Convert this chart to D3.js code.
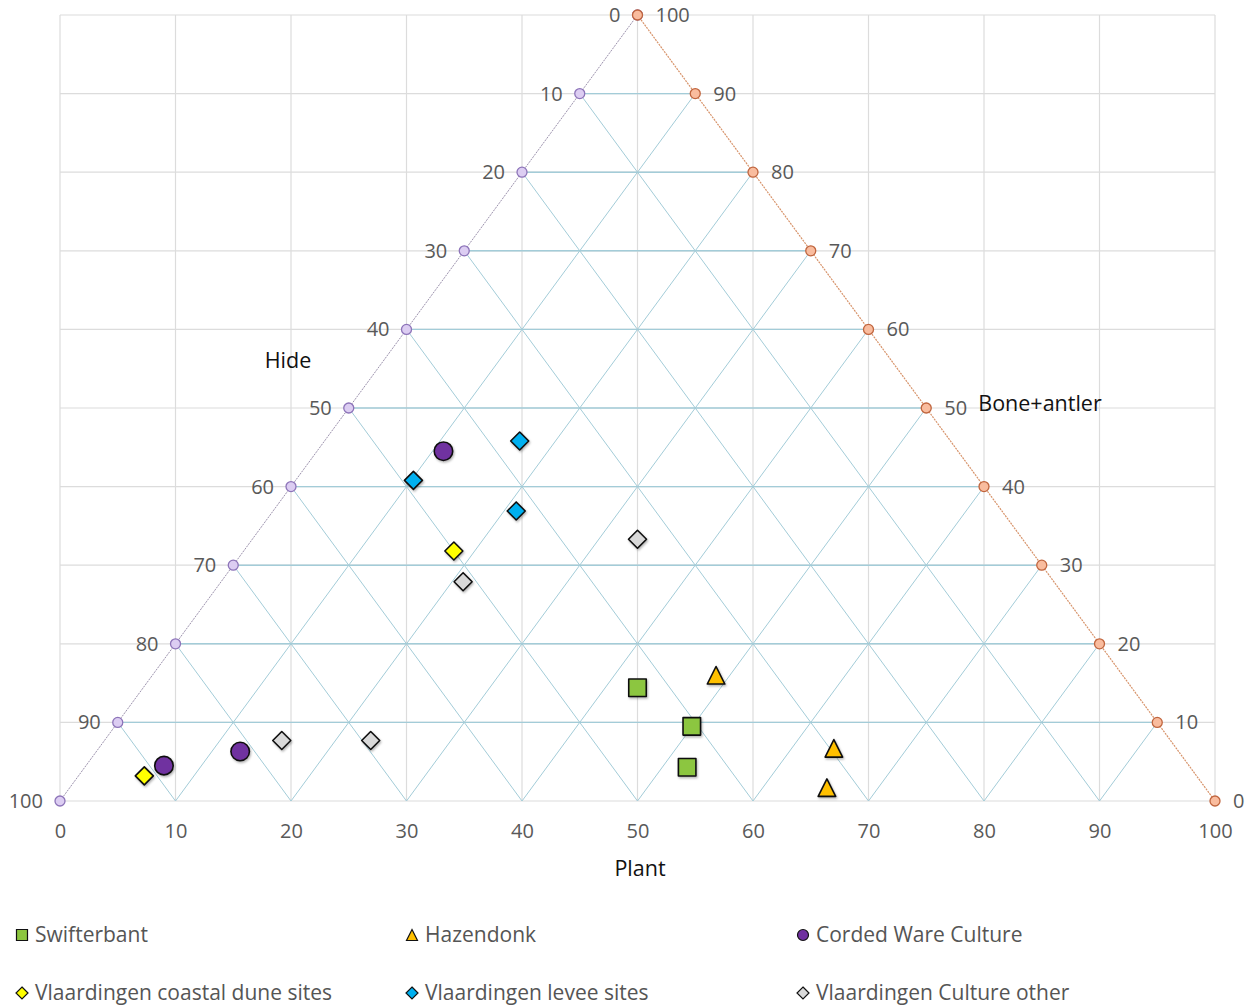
<!DOCTYPE html>
<html>
<head>
<meta charset="utf-8">
<script src="https://cdn.jsdelivr.net/npm/d3@7"></script>
<style>
  body { margin: 0; background: #fff; }
  svg { display: block; font-family: "Open Sans", "Noto Sans", sans-serif; }
</style>
</head>
<body>
<svg id="chart" width="1250" height="1008"></svg>
<script>
// Ternary diagram of use-wear material: Plant (bottom), Hide (left edge), Bone+antler (right edge).
// Points are given in plot coordinates: x along the Plant axis, y as the Bone+antler level.
const ticks = [0, 10, 20, 30, 40, 50, 60, 70, 80, 90, 100];

const swifterbantX = [50.0, 54.7, 54.3];
const swifterbantY = [14.4, 9.5, 4.3];

const hazendonkX = [56.8, 67.0, 66.4];
const hazendonkY = [16.0, 6.7, 1.7];

const cordedWareX = [33.2, 9.0, 15.6];
const cordedWareY = [44.5, 4.5, 6.3];

const coastalDuneX = [34.1, 7.3];
const coastalDuneY = [31.8, 3.2];

const leveeX = [39.8, 30.6, 39.5];
const leveeY = [45.8, 40.8, 36.9];

const otherX = [50.0, 34.9, 19.2, 26.9];
const otherY = [33.3, 27.9, 7.7, 7.7];

const seriesNames = ["Swifterbant", "Hazendonk", "Corded Ware Culture",
  "Vlaardingen coastal dune sites", "Vlaardingen levee sites", "Vlaardingen Culture other"];
const seriesShapes = ["square", "triangle", "circle", "diamond", "diamond", "diamond"];
const seriesColors = ["#8cc63f", "#ffc000", "#7030a0", "#ffff00", "#00b0f0", "#d9d9d9"];

const series = [
  [swifterbantX, swifterbantY], [hazendonkX, hazendonkY], [cordedWareX, cordedWareY],
  [coastalDuneX, coastalDuneY], [leveeX, leveeY], [otherX, otherY]
].map(([xs, ys], i) => ({
  name: seriesNames[i], shape: seriesShapes[i], color: seriesColors[i],
  points: xs.map((x, j) => ({ x, y: ys[j] }))
}));

const svg = d3.select("#chart");
const x = d3.scaleLinear().domain([0, 100]).range([60, 1215]);
const y = d3.scaleLinear().domain([0, 100]).range([801, 15]);

const defs = svg.append("defs");
const shadow = defs.append("filter").attr("id", "shadow")
  .attr("x", "-50%").attr("y", "-50%").attr("width", "200%").attr("height", "200%");
shadow.append("feDropShadow").attr("dx", 1).attr("dy", 1.5)
  .attr("stdDeviation", 1).attr("flood-color", "#000").attr("flood-opacity", 0.3);

// Background cartesian grid
const grid = svg.append("g").attr("stroke", "#dcdcdc").attr("stroke-width", 1.2);
ticks.forEach(t => {
  grid.append("line").attr("x1", x(t)).attr("x2", x(t)).attr("y1", y(0)).attr("y2", y(100));
  grid.append("line").attr("x1", x(0)).attr("x2", x(100)).attr("y1", y(t)).attr("y2", y(t));
});

// Ternary grid inside the triangle
const tri = svg.append("g").attr("stroke", "#a3ccd8").attr("stroke-width", 1).attr("fill", "none");
ticks.slice(1, -1).forEach(t => {
  // horizontal (constant Bone+antler)
  tri.append("line").attr("x1", x(t / 2)).attr("x2", x(100 - t / 2)).attr("y1", y(t)).attr("y2", y(t))
    .attr("stroke-width", 1.4);
  // parallel to left edge (constant Hide)
  tri.append("line").attr("x1", x(t)).attr("y1", y(0)).attr("x2", x(50 + t / 2)).attr("y2", y(100 - t));
  // parallel to right edge (constant Plant)
  tri.append("line").attr("x1", x(t)).attr("y1", y(0)).attr("x2", x(t / 2)).attr("y2", y(t));
});

// Triangle edges
svg.append("line").attr("x1", x(0)).attr("y1", y(0)).attr("x2", x(50)).attr("y2", y(100))
  .attr("stroke", "#9c92ad").attr("stroke-width", 1).attr("stroke-dasharray", "2,1");
svg.append("line").attr("x1", x(50)).attr("y1", y(100)).attr("x2", x(100)).attr("y2", y(0))
  .attr("stroke", "#d7936a").attr("stroke-width", 1.2).attr("stroke-dasharray", "2,1");

// Edge tick markers and labels
const tickFont = 20, tickColor = "#595959";
const leftAxis = svg.append("g");
ticks.forEach(t => {
  const h = 100 - t; // Hide value at this level
  const px = x(t / 2), py = y(t);
  leftAxis.append("circle").attr("cx", px).attr("cy", py).attr("r", 5)
    .attr("fill", "#dccdf2").attr("stroke", "#8d74b9").attr("stroke-width", 1.3);
  leftAxis.append("text").attr("x", px - 17).attr("y", py).attr("dy", "0.35em")
    .attr("text-anchor", "end").attr("font-size", tickFont).attr("fill", tickColor).text(h);
});
const rightAxis = svg.append("g");
ticks.forEach(t => {
  const px = x(100 - t / 2), py = y(t);
  rightAxis.append("circle").attr("cx", px).attr("cy", py).attr("r", 5)
    .attr("fill", "#f9bc9e").attr("stroke", "#c0653e").attr("stroke-width", 1.3);
  rightAxis.append("text").attr("x", px + 18).attr("y", py).attr("dy", "0.35em")
    .attr("text-anchor", "start").attr("font-size", tickFont).attr("fill", tickColor).text(t);
});

// Bottom Plant axis
const bottom = svg.append("g").attr("transform", `translate(0,${y(0)})`)
  .call(d3.axisBottom(x).tickValues(ticks).tickSize(0).tickPadding(23));
bottom.select(".domain").remove();
bottom.selectAll("text").attr("font-size", tickFont).attr("fill", tickColor)
  .attr("font-family", "'Open Sans', 'Noto Sans', sans-serif");

// Axis titles
const titleFont = 21.5;
svg.append("text").attr("x", 640).attr("y", 876).attr("text-anchor", "middle")
  .attr("font-size", titleFont).attr("fill", "#111").text("Plant");
svg.append("text").attr("x", 288).attr("y", 368).attr("text-anchor", "middle")
  .attr("font-size", titleFont).attr("fill", "#111").text("Hide");
svg.append("text").attr("x", 1040).attr("y", 411).attr("text-anchor", "middle")
  .attr("font-size", titleFont).attr("fill", "#111").text("Bone+antler");

// Marker shapes
function shapePath(shape, s) {
  const h = s / 2;
  if (shape === "square") return `M${-h},${-h}H${h}V${h}H${-h}Z`;
  if (shape === "diamond") return `M0,${-h}L${h},0L0,${h}L${-h},0Z`;
  if (shape === "triangle") return `M0,${-h}L${h},${h}H${-h}Z`;
  return d3.symbol(d3.symbolCircle, Math.PI * h * h)();
}
const markerSize = { square: 17.5, triangle: 17.5, circle: 18.5, diamond: 18 };

const marks = svg.append("g");
series.forEach(s => {
  marks.append("g").selectAll("path").data(s.points).join("path")
    .attr("transform", d => `translate(${x(d.x)},${y(d.y)})`)
    .attr("d", shapePath(s.shape, markerSize[s.shape]))
    .attr("fill", s.color).attr("stroke", "#111").attr("stroke-width", 1.6)
    .attr("stroke-linejoin", "round")
    .attr("filter", "url(#shadow)");
});

// Legend
const legendCols = [16, 406, 797], legendRows = [935, 993];
const legend = svg.append("g");
series.forEach((s, i) => {
  const lx = legendCols[i % 3], ly = legendRows[Math.floor(i / 3)];
  const g = legend.append("g").attr("transform", `translate(${lx},${ly})`);
  g.append("path").attr("transform", "translate(6,0)")
    .attr("d", shapePath(s.shape, s.shape === "diamond" ? 12 : 11))
    .attr("fill", s.color).attr("stroke", "#111").attr("stroke-width", 1.2);
  g.append("text").attr("x", 19).attr("dy", "0.35em").attr("font-size", 21)
    .attr("fill", "#555").text(s.name);
});
</script>
</body>
</html>
